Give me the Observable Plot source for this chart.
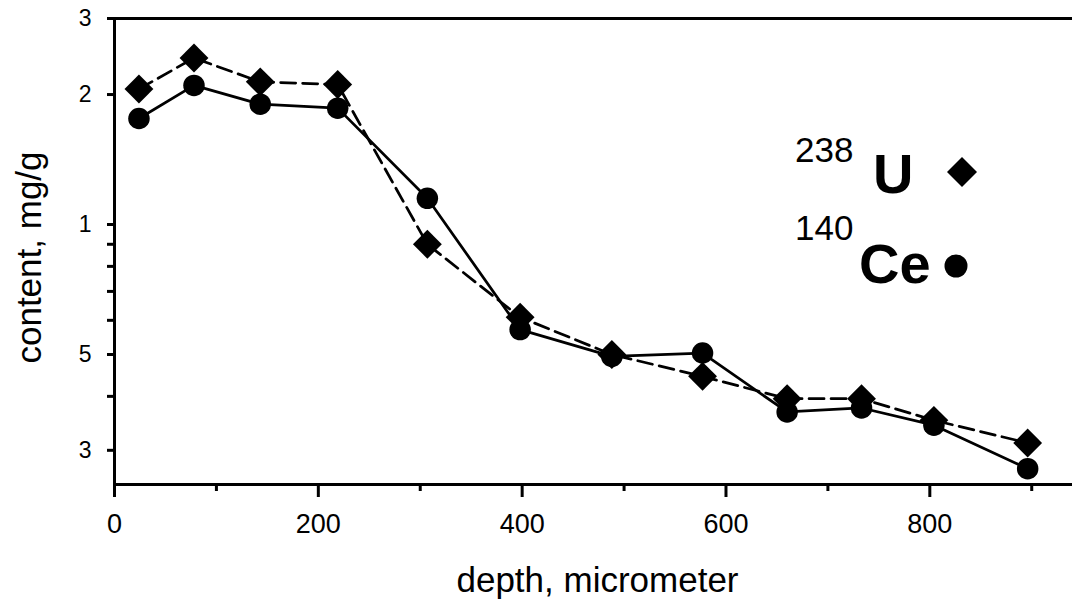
<!DOCTYPE html>
<html><head><meta charset="utf-8">
<script src="https://cdn.jsdelivr.net/npm/d3@7"></script>
<script src="https://cdn.jsdelivr.net/npm/@observablehq/plot@0.6"></script>
<style>
  body { margin: 0; background: #fff; }
  #chart { width: 1072px; height: 600px; }
</style>
</head><body><div id="chart"></div>
<script>
// ---- data ----
const depth = [24, 78, 143, 219, 307, 398, 488, 577, 660, 733, 804, 896];
const u238  = [2.06, 2.43, 2.14, 2.11, 0.90, 0.61, 0.50, 0.445, 0.395, 0.395, 0.352, 0.312];
const ce140 = [1.76, 2.10, 1.90, 1.86, 1.15, 0.571, 0.495, 0.504, 0.368, 0.376, 0.343, 0.272];

const yMajorTicks  = [3, 2, 1, 0.5, 0.3];
const yMajorLabels = ["3", "2", "1", "5", "3"];
const yMinorTicks  = [0.9, 0.8, 0.7, 0.6, 0.4];
const xMajorTicks  = [0, 200, 400, 600, 800];
const xMinorTicks  = [100, 300, 500, 700, 900];

const xTitle = "depth, micrometer";
const yTitle = "content, mg/g";
const legendItems = [
  {mass: "238", element: "U", symbol: "diamond2"},
  {mass: "140", element: "Ce", symbol: "circle"}
];

const uRows  = depth.map((d, i) => ({depth: d, value: u238[i]}));
const ceRows = depth.map((d, i) => ({depth: d, value: ce140[i]}));

const font = "'Liberation Sans', Arial, Helvetica, sans-serif";

const plot = Plot.plot({
  width: 1072,
  height: 600,
  marginTop: 18,
  marginBottom: 116,
  marginLeft: 114,
  marginRight: 0,
  style: {fontFamily: font, background: "white", color: "black"},
  x: {domain: [0, 940]},
  y: {type: "log", domain: [0.25, 3]},
  marks: [
    // frame lines
    Plot.ruleY([3], {stroke: "black", strokeWidth: 3}),
    Plot.ruleY([0.25], {stroke: "black", strokeWidth: 3}),
    Plot.ruleX([0], {stroke: "black", strokeWidth: 3}),
    // y axis
    Plot.axisY({ticks: yMajorTicks, tickSize: 7, tickPadding: 16, strokeWidth: 3, fontSize: 23,
      tickFormat: (d) => yMajorLabels[yMajorTicks.indexOf(d)], label: null}),
    Plot.axisY({ticks: yMinorTicks, tickSize: 7, strokeWidth: 3, tickFormat: () => "", label: null}),
    // x axis
    Plot.axisX({ticks: xMajorTicks, tickSize: 13, tickPadding: 16, strokeWidth: 3, fontSize: 27,
      tickFormat: (d) => String(d), label: null}),
    Plot.axisX({ticks: xMinorTicks, tickSize: 7, strokeWidth: 3, tickFormat: () => "", label: null}),
    // titles
    Plot.text([xTitle], {frameAnchor: "bottom", lineAnchor: "top", dx: 4, dy: 83, fontSize: 35, fill: "black"}),
    Plot.text([yTitle], {frameAnchor: "left", textAnchor: "middle", rotate: -90, dx: -85, dy: 6, fontSize: 35, fill: "black"}),
    // series
    Plot.line(uRows, {x: "depth", y: "value", stroke: "black", strokeWidth: 2.75, strokeDasharray: "15,7"}),
    Plot.line(ceRows, {x: "depth", y: "value", stroke: "black", strokeWidth: 2.75}),
    Plot.dot(uRows, {x: "depth", y: "value", symbol: "diamond2", r: 13, fill: "black"}),
    Plot.dot(ceRows, {x: "depth", y: "value", r: 10.75, fill: "black"})
  ]
});

document.getElementById("chart").appendChild(plot);

// ---- legend (drawn in the SVG) ----
const svg = d3.select(plot);
const lg = svg.append("g").attr("font-family", font).attr("fill", "black").attr("text-anchor", "start");
const rowsY = [[162, 193, 172], [240, 283, 266]];
const elemX = [873, 859];
const symX = [962, 956];
legendItems.forEach((it, i) => {
  lg.append("text").attr("x", 795).attr("y", rowsY[i][0]).attr("font-size", 35).text(it.mass);
  lg.append("text").attr("x", elemX[i]).attr("y", rowsY[i][1]).attr("font-size", 56)
    .attr("font-weight", "bold").text(it.element);
  if (it.symbol === "diamond2") {
    lg.append("path").attr("transform", `translate(${symX[i]},${rowsY[i][2]})`)
      .attr("d", d3.symbol(d3.symbolDiamond2, 574)());
  } else {
    lg.append("circle").attr("cx", symX[i]).attr("cy", rowsY[i][2]).attr("r", 11.5);
  }
});
</script>
</body></html>
